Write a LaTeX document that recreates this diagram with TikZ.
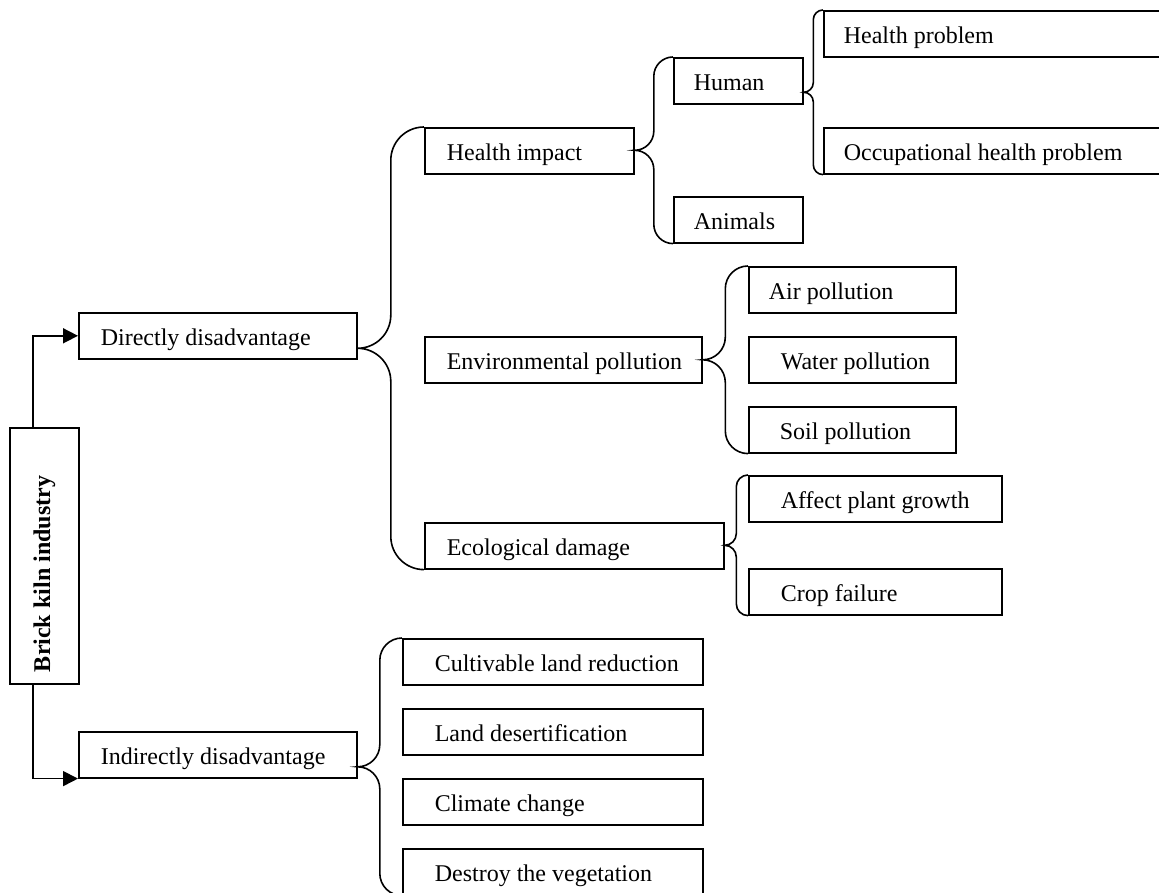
\documentclass[tikz,border=0pt]{standalone}
\usepackage{fontspec}
\setmainfont{Liberation Serif}
\usepackage{tikz}
\usetikzlibrary{arrows.meta,calc}
\tikzset{
  box/.style={draw,line width=0.8pt,anchor=north west,minimum height=23pt,
    inner ysep=0pt,text height=11.5pt,text depth=1.5pt,
    font=\fontsize{12}{14}\selectfont},
  brc/.style={line width=0.8pt},
  arr/.style={line width=0.8pt,-{Triangle[length=7.5pt,width=7.5pt]}}
}
\newcommand{\kilnbrace}[3]{%
  \draw[brc] let \p1=(#1.east), \p2=(#2.north west), \p3=(#3.south west),
    \n1={0.5*(\x1+\x2)}, \n2={0.5*(\y2+\y3)}, \n3={0.5*(\x2-\x1)},
    \n4={0.448*\n3} in
    (\p2) .. controls (\n1+\n4,\y2) and (\n1,\y2-\n4) .. (\n1,\y2-\n3)
    -- (\n1,\n2+\n3) .. controls (\n1,\n2+\n4) and (\n1-\n4,\n2) .. (\x1,\n2)
    .. controls (\n1-\n4,\n2) and (\n1,\n2-\n4) .. (\n1,\n2-\n3)
    -- (\n1,\y3+\n3) .. controls (\n1,\y3+\n4) and (\n1+\n4,\y3) .. (\p3);}

\begin{document}
\begin{tikzpicture}[x=0.5pt,y=-0.5pt]
    \useasboundingbox (0,0) rectangle (1159,892);
    \node[box,anchor=center,minimum width=34.5pt,minimum height=128pt,inner sep=0pt,
      text height=,text depth=]
      (root) at (44.5,556)
      {\rotatebox{90}{\makebox[116pt][l]{\bfseries Brick kiln industry}}};
    \foreach \nm/\x/\y/\w/\pd/\txt in {
      dir/78/312/278/22/{Directly disadvantage},
      ind/78/731/278/22/{Indirectly disadvantage},
      hlth/424/127/209/22/{Health impact},
      env/424/336/277/22/{Environmental pollution},
      eco/424/522/299/22/{Ecological damage},
      hum/673/57/129/20/{Human},
      ani/673/196/129/20/{Animals},
      hprob/823/10/347/20/{Health problem},
      occ/823/127/347/20/{Occupational health problem},
      air/748/266/207/20/{Air pollution},
      wat/748/336/207/32/{Water pollution},
      soil/748/406/207/31/{Soil pollution},
      plant/748/475/253/32/{Affect plant growth},
      crop/748/568/253/32/{Crop failure},
      cult/402/638/300/32/{Cultivable land reduction},
      desert/402/708/300/32/{Land desertification},
      clim/402/778/300/32/{Climate change},
      veg/402/848/300/32/{Destroy the vegetation}}{
      \pgfmathsetmacro\tw{0.5*\w-\pd}
      \pgfmathsetmacro\ps{0.5*\pd}
      \node[box,inner xsep=\ps pt] (\nm) at (\x,\y) {\makebox[\tw pt][l]{\txt}};
    }
    \draw[arr] ([xshift=-5.75pt]root.north) |- (dir.west);
    \draw[arr] ([xshift=-5.75pt]root.south) |- (ind.south west);
    \kilnbrace{dir}{hlth}{eco}
    \kilnbrace{hlth}{hum}{ani}
    \kilnbrace{hum}{hprob}{occ}
    \kilnbrace{env}{air}{soil}
    \kilnbrace{eco}{plant}{crop}
    \kilnbrace{ind}{cult}{veg}
\end{tikzpicture}
\end{document}
